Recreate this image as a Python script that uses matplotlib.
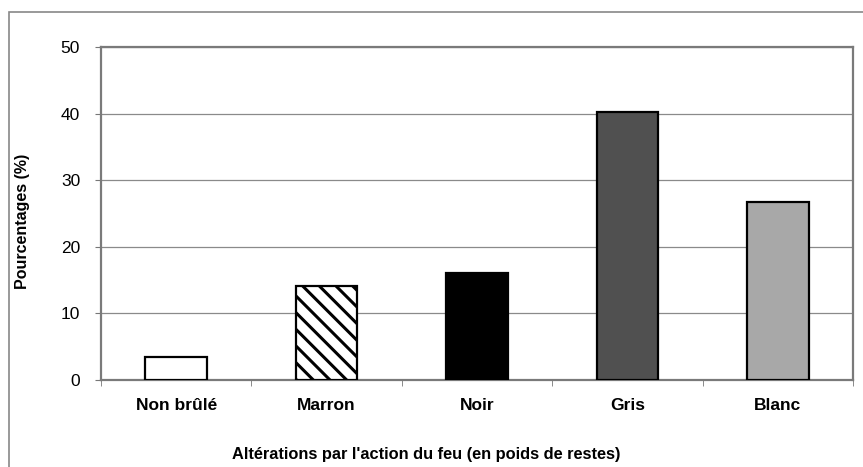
import matplotlib.pyplot as plt
import matplotlib.patches as patches

plt.rcParams['font.family'] = ['Liberation Sans', 'DejaVu Sans']
plt.rcParams['hatch.linewidth'] = 2.2

# Data
categories = ["Non brûlé", "Marron", "Noir", "Gris", "Blanc"]
values = [3.5, 14.1, 16.0, 40.3, 26.8]
colors = ["white", "white", "black", "#505050", "#a8a8a8"]
hatches = [None, "\\\\", None, None, None]
yticks = [0, 10, 20, 30, 40, 50]

W, H = 863, 467
fig = plt.figure(figsize=(W / 100, H / 100), dpi=100)

# plot area in pixel coords
left, right, top, bottom = 101, 853, 47, 380
ax = fig.add_axes([left / W, 1 - bottom / H, (right - left) / W, (bottom - top) / H])

x = list(range(len(categories)))
for xi, v, c, h in zip(x, values, colors, hatches):
    ax.bar(xi, v, width=0.41, color=c, edgecolor="black", linewidth=1.6,
           hatch=h, zorder=3)

ax.set_xlim(-0.5, len(categories) - 0.5)
ax.set_ylim(0, 50)
ax.set_yticks(yticks)
ax.set_yticklabels([str(t) for t in yticks], fontsize=12.5)
ax.yaxis.grid(True, color="#8a8a8a", linewidth=0.9, zorder=0)

# category labels between boundary ticks
ax.set_xticks(x)
ax.set_xticklabels(categories, fontsize=12.5, fontweight="bold")
ax.tick_params(axis="x", length=0, pad=13)
ax.set_xticks([i - 0.5 for i in range(len(categories) + 1)], minor=True)
ax.tick_params(axis="x", which="minor", length=4, color="#777777", direction="out")
ax.tick_params(axis="y", length=4, color="#777777", direction="out", pad=11)

for s in ax.spines.values():
    s.set_color("#7a7a7a")
    s.set_linewidth(1.6)

ax.set_ylabel("Pourcentages (%)", fontsize=11.5, fontweight="bold")
ax.yaxis.set_label_coords(-0.094, 0.475)

fig.text(426 / W, 1 - 455 / H, "Altérations par l'action du feu (en poids de restes)",
         fontsize=11.8, fontweight="bold", ha="center", va="center")

# outer chart frame
frame = patches.Rectangle((9 / W, 1 - 490 / H), 880 / W, (490 - 12) / H,
                          transform=fig.transFigure, fill=False,
                          edgecolor="#888888", linewidth=1.2)
fig.patches.append(frame)

fig.savefig("out.png", dpi=100)
